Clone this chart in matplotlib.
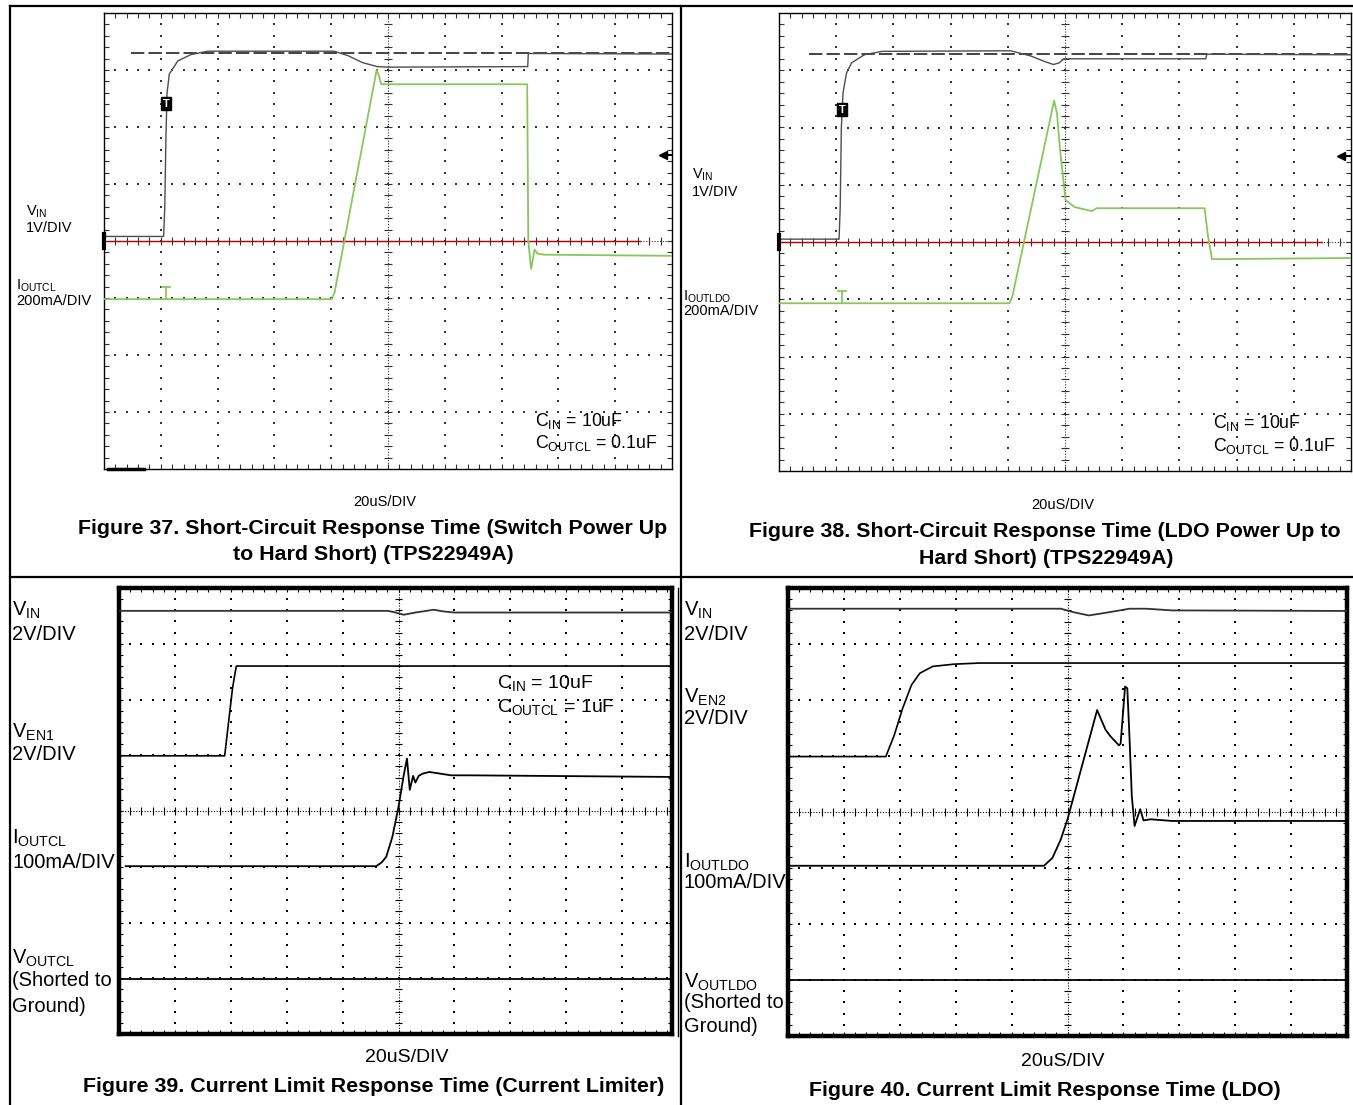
import numpy as np
import matplotlib
matplotlib.use('Agg')
from matplotlib import pyplot as plt
from matplotlib.lines import Line2D
from matplotlib.collections import LineCollection

plt.rcParams['font.family'] = ['Liberation Sans', 'DejaVu Sans']
plt.rcParams['mathtext.fontset'] = 'custom'
plt.rcParams['mathtext.rm'] = 'Liberation Sans'
plt.rcParams['mathtext.it'] = 'Liberation Sans:italic'
plt.rcParams['mathtext.bf'] = 'Liberation Sans:bold'

W, H = 1353, 1105

# all trace values are in scope divisions (x 0..10, y 0..8 from bottom)

# Figure 37 - switch power up to hard short
f37_vin_x = [0.0, 1.05, 1.07, 1.09, 1.11, 1.15, 1.30, 1.53, 1.83, 4.05, 4.30, 4.55, 4.81, 5.00, 7.46, 7.47, 10.0]
f37_vin_y = [4.08, 4.08, 4.60, 5.80, 6.60, 6.93, 7.16, 7.27, 7.33, 7.33, 7.25, 7.13, 7.06, 7.05, 7.06, 7.29, 7.28]
f37_ref_x = [0.48, 10.0]
f37_ref_y = [7.30, 7.30]
f37_iout_x = [0.0, 4.01, 4.06, 4.80, 4.84, 4.88, 7.45, 7.47, 7.52, 7.58, 7.63, 7.75, 10.0]
f37_iout_y = [2.98, 2.98, 3.10, 7.00, 6.90, 6.75, 6.75, 4.00, 3.51, 3.85, 3.78, 3.76, 3.74]

# Figure 38 - LDO power up to hard short
f38_vin_x = [0.0, 1.05, 1.07, 1.09, 1.12, 1.18, 1.27, 1.49, 1.80, 4.05, 4.40, 4.65, 4.80, 4.90, 4.98, 7.46, 7.48, 10.0]
f38_vin_y = [4.05, 4.05, 4.60, 6.00, 6.61, 6.95, 7.13, 7.27, 7.33, 7.34, 7.25, 7.15, 7.10, 7.13, 7.20, 7.20, 7.28, 7.27]
f38_ref_x = [0.52, 10.0]
f38_ref_y = [7.29, 7.29]
f38_iout_x = [0.0, 4.03, 4.08, 4.81, 4.86, 4.91, 5.01, 5.17, 5.47, 5.55, 7.44, 7.50, 7.57, 10.0]
f38_iout_y = [2.93, 2.93, 3.05, 6.47, 6.25, 5.64, 4.73, 4.61, 4.54, 4.59, 4.59, 4.10, 3.70, 3.72]

# Figure 39 - current limiter
f39_vin_x = [0.0, 4.81, 4.95, 5.09, 5.30, 5.63, 5.80, 6.00, 10.0]
f39_vin_y = [7.59, 7.59, 7.56, 7.52, 7.56, 7.61, 7.58, 7.56, 7.56]
f39_en_x = [0.0, 1.89, 2.03, 2.08, 2.10, 10.0]
f39_en_y = [4.99, 4.99, 6.20, 6.50, 6.60, 6.60]
f39_iout_x = [0.12, 4.60, 4.70, 4.78, 4.89, 5.00, 5.09, 5.15, 5.20, 5.26, 5.30, 5.36, 5.43, 5.55, 5.94, 6.25, 10.0]
f39_iout_y = [3.01, 3.01, 3.08, 3.18, 3.54, 4.08, 4.63, 4.94, 4.38, 4.63, 4.51, 4.63, 4.67, 4.70, 4.64, 4.64, 4.61]
f39_vout_x = [0.0, 10.0]
f39_vout_y = [0.98, 0.98]

# Figure 40 - LDO
f40_vin_x = [0.0, 4.88, 5.10, 5.38, 5.70, 6.11, 6.41, 6.87, 10.0]
f40_vin_y = [7.63, 7.63, 7.57, 7.51, 7.56, 7.63, 7.63, 7.60, 7.59]
f40_en_x = [0.0, 1.75, 1.90, 2.05, 2.21, 2.36, 2.59, 2.97, 3.43, 10.0]
f40_en_y = [4.99, 4.99, 5.37, 5.85, 6.27, 6.48, 6.60, 6.64, 6.66, 6.66]
f40_iout_x = [0.0, 4.58, 4.73, 4.88, 5.00, 5.53, 5.68, 5.77, 5.92, 5.95, 6.03, 6.07, 6.11, 6.15, 6.20, 6.25, 6.30, 6.36, 6.49, 6.87, 10.0]
f40_iout_y = [3.04, 3.04, 3.18, 3.51, 3.87, 5.82, 5.47, 5.35, 5.19, 5.22, 6.24, 6.21, 5.31, 4.29, 3.75, 3.90, 4.05, 3.85, 3.87, 3.84, 3.84]
f40_vout_x = [0.0, 10.0]
f40_vout_y = [1.00, 1.00]

GREEN = '#86c85c'
GRAY = '#4d4d4d'
RED = '#c00000'

fig = plt.figure(figsize=(W / 100, H / 100), dpi=100)


def fx(px):
    return px / W


def fy(py):
    return 1 - py / H


def put(x, y, s, size, ha='left', weight='normal'):
    fig.text(fx(x), fy(y), s, fontsize=size, ha=ha, va='center', fontweight=weight)


def scope_axes(left, top, right, bottom, xmax, frame_lw, dot_color):
    ax = fig.add_axes([fx(left), fy(bottom), (right - left) / W, (bottom - top) / H])
    ax.set_xlim(0, xmax)
    ax.set_ylim(0, 8)
    ax.set_xticks([])
    ax.set_yticks([])
    for sp in ax.spines.values():
        sp.set_linewidth(frame_lw)
        sp.set_color('k')

    # dotted graticule
    fine = np.arange(0.2, 8, 0.2)
    for i in range(1, 10):
        if i == 5 or i > xmax:
            continue
        ax.scatter(np.full_like(fine, i), fine, s=0.8, marker='s', color=dot_color, lw=0, zorder=1)
    finex = np.arange(0.2, xmax, 0.2)
    for j in range(1, 8):
        if j == 4:
            continue
        ax.scatter(finex, np.full_like(finex, j), s=0.8, marker='s', color=dot_color, lw=0, zorder=1)

    # centre axes with minor ticks
    ax.plot([5, 5], [0, 8], color=dot_color, lw=0.8, ls=(0, (1, 1.5)), zorder=1)
    ax.plot([0, xmax], [4, 4], color=dot_color, lw=0.8, ls=(0, (1, 1.5)), zorder=1)
    segs = []
    for t in np.arange(0.2, 8, 0.2):
        segs.append([(4.93, t), (5.07, t)])
    for t in np.arange(0.2, xmax, 0.2):
        segs.append([(t, 3.93), (t, 4.07)])
    # border ticks
    for t in np.arange(0.2, xmax, 0.2):
        segs.append([(t, 8), (t, 7.92)])
        segs.append([(t, 0), (t, 0.08)])
    for t in np.arange(0.2, 8, 0.2):
        segs.append([(0, t), (0.08, t)])
        segs.append([(xmax, t), (xmax - 0.08, t)])
    ax.add_collection(LineCollection(segs, colors=dot_color, linewidths=0.8, zorder=1))
    return ax


def frame_line(x0, y0, x1, y1, lw=1.6):
    fig.add_artist(Line2D([fx(x0), fx(x1)], [fy(y0), fy(y1)], color='k', lw=lw))


# page frame
frame_line(10, 6, W, 6)
frame_line(10, 6, 10, H)
frame_line(681, 6, 681, H)
frame_line(10, 577, W, 577)

TITLE = 15.4

# ---------- Figure 37
ax1 = scope_axes(104, 13, 672, 469, 10, 1.0, '#333333')
ax1.plot([0.07, 9.44], [4.0, 4.0], color=RED, lw=1.0, zorder=2)
ax1.plot(f37_ref_x, f37_ref_y, color='#222222', lw=1.2, dashes=(8, 2.5), zorder=3)
ax1.plot(f37_vin_x, f37_vin_y, color=GRAY, lw=1.0, zorder=4)
ax1.plot(f37_iout_x, f37_iout_y, color=GREEN, lw=1.3, zorder=4)
ax1.text(1.09, 6.41, 'T', color='white', fontsize=8, fontweight='bold', ha='center', va='center',
         bbox=dict(boxstyle='square,pad=0.12', fc='black', ec='black'), zorder=5)
ax1.plot([1.02, 1.16], [3.2, 3.2], color=GREEN, lw=1.3, zorder=5)
ax1.plot([1.09, 1.09], [3.2, 2.98], color=GREEN, lw=1.3, zorder=5)
ax1.plot([0, 0], [3.87, 4.13], color='k', lw=3, clip_on=False, zorder=6)
ax1.plot([0.07, 0.7], [0, 0], color='k', lw=2.5, clip_on=False, zorder=6)
ax1.plot([9.88, 9.98], [5.51, 5.51], color='k', lw=1.5, clip_on=False, zorder=6)
ax1.plot([9.85], [5.51], marker='<', color='k', ms=6, clip_on=False, zorder=6)

put(26, 212, r'V$_{\mathrm{IN}}$', 10.5)
put(26, 228, '1V/DIV', 10.5)
put(16, 286, r'I$_{\mathrm{OUTCL}}$', 10.5)
put(16, 301, '200mA/DIV', 10.5)
put(535, 421, r'C$_{\mathrm{IN}}$ = 10uF', 12.8)
put(535, 443, r'C$_{\mathrm{OUTCL}}$ = 0.1uF', 12.8)
put(385, 502, '20uS/DIV', 10.5, ha='center')
put(373, 528, 'Figure 37. Short-Circuit Response Time (Switch Power Up', TITLE, ha='center', weight='bold')
put(373, 555, 'to Hard Short) (TPS22949A)', TITLE, ha='center', weight='bold')

# ---------- Figure 38
ax2 = scope_axes(779, 13, 1351, 471, 10, 1.0, '#333333')
ax2.plot([0.0, 9.49], [4.0, 4.0], color=RED, lw=1.0, zorder=2)
ax2.plot(f38_ref_x, f38_ref_y, color='#222222', lw=1.2, dashes=(8, 2.5), zorder=3)
ax2.plot(f38_vin_x, f38_vin_y, color=GRAY, lw=1.0, zorder=4)
ax2.plot(f38_iout_x, f38_iout_y, color=GREEN, lw=1.3, zorder=4)
ax2.text(1.10, 6.31, 'T', color='white', fontsize=8, fontweight='bold', ha='center', va='center',
         bbox=dict(boxstyle='square,pad=0.12', fc='black', ec='black'), zorder=5)
ax2.plot([1.03, 1.17], [3.15, 3.15], color=GREEN, lw=1.3, zorder=5)
ax2.plot([1.10, 1.10], [3.15, 2.93], color=GREEN, lw=1.3, zorder=5)
ax2.plot([0, 0], [3.87, 4.13], color='k', lw=3, clip_on=False, zorder=6)
ax2.plot([9.86, 9.98], [5.50, 5.50], color='k', lw=1.5, clip_on=False, zorder=6)
ax2.plot([9.83], [5.50], marker='<', color='k', ms=6, clip_on=False, zorder=6)

put(692, 175, r'V$_{\mathrm{IN}}$', 10.5)
put(692, 192, '1V/DIV', 10.5)
put(683, 297, r'I$_{\mathrm{OUTLDO}}$', 10.5)
put(683, 311, '200mA/DIV', 10.5)
put(1213, 423, r'C$_{\mathrm{IN}}$ = 10uF', 12.8)
put(1213, 446, r'C$_{\mathrm{OUTCL}}$ = 0.1uF', 12.8)
put(1063, 505, '20uS/DIV', 10.5, ha='center')
put(1045, 531, 'Figure 38. Short-Circuit Response Time (LDO Power Up to', TITLE, ha='center', weight='bold')
put(1046, 558, 'Hard Short) (TPS22949A)', TITLE, ha='center', weight='bold')

# ---------- Figure 39
ax3 = scope_axes(119, 588, 672, 1034, 9.89, 3.2, 'k')
ax3.plot(f39_vin_x, f39_vin_y, color='#333333', lw=1.3, zorder=4)
ax3.plot(f39_en_x, f39_en_y, color='k', lw=1.2, zorder=4)
ax3.plot(f39_iout_x, f39_iout_y, color='k', lw=1.3, zorder=4)
ax3.plot(f39_vout_x, f39_vout_y, color='k', lw=1.3, zorder=4)
frame_line(678, 588, 678, 1036, lw=1.0)

put(12, 610, r'V$_{\mathrm{IN}}$', 14.5)
put(12, 634, '2V/DIV', 14.5)
put(12, 732, r'V$_{\mathrm{EN1}}$', 14.5)
put(12, 755, '2V/DIV', 14.5)
put(12, 838, r'I$_{\mathrm{OUTCL}}$', 14.5)
put(12, 862, '100mA/DIV', 14.5)
put(12, 958, r'V$_{\mathrm{OUTCL}}$', 14.5)
put(12, 981, '(Shorted to', 14.5)
put(12, 1006, 'Ground)', 14.5)
put(497, 683, r'C$_{\mathrm{IN}}$ = 10uF', 14)
put(497, 707, r'C$_{\mathrm{OUTCL}}$ = 1uF', 14)
put(407, 1057, '20uS/DIV', 14, ha='center')
put(374, 1087, 'Figure 39. Current Limit Response Time (Current Limiter)', TITLE, ha='center', weight='bold')

# ---------- Figure 40
ax4 = scope_axes(788, 588, 1347, 1036, 10, 3.2, 'k')
ax4.plot(f40_vin_x, f40_vin_y, color='#333333', lw=1.3, zorder=4)
ax4.plot(f40_en_x, f40_en_y, color='k', lw=1.2, zorder=4)
ax4.plot(f40_iout_x, f40_iout_y, color='k', lw=1.3, zorder=4)
ax4.plot(f40_vout_x, f40_vout_y, color='k', lw=1.3, zorder=4)

put(684, 610, r'V$_{\mathrm{IN}}$', 14.5)
put(684, 634, '2V/DIV', 14.5)
put(684, 697, r'V$_{\mathrm{EN2}}$', 14.5)
put(684, 719, '2V/DIV', 14.5)
put(684, 862, r'I$_{\mathrm{OUTLDO}}$', 14.5)
put(684, 883, '100mA/DIV', 14.5)
put(684, 982, r'V$_{\mathrm{OUTLDO}}$', 14.5)
put(684, 1003, '(Shorted to', 14.5)
put(684, 1027, 'Ground)', 14.5)
put(1063, 1062, '20uS/DIV', 14, ha='center')
put(1045, 1090, 'Figure 40. Current Limit Response Time (LDO)', TITLE, ha='center', weight='bold')

fig.savefig('out.png', dpi=100)
